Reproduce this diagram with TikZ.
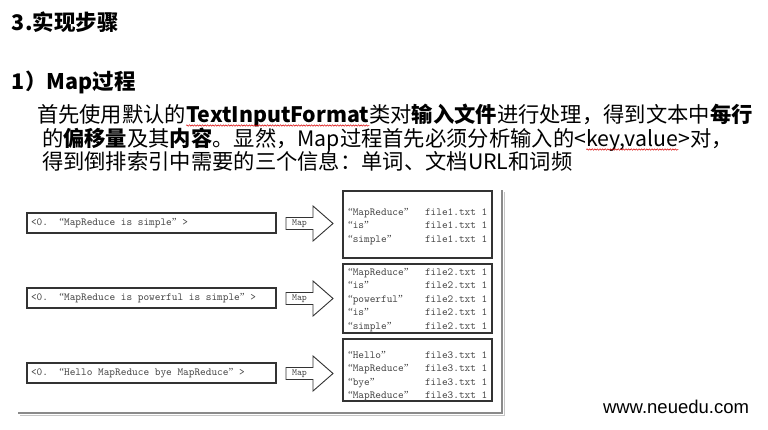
\documentclass[tikz,border=0pt]{standalone}
\usepackage{fontspec}
\setmainfont{Noto Sans CJK SC}
\newfontfamily\webfont{Liberation Sans}
\newfontfamily\qtfont{Liberation Serif}
\newcommand\oq{{\qtfont “}}
\newcommand\cq{{\qtfont ”}}
\usetikzlibrary{decorations.pathmorphing}
\definecolor{boxline}{HTML}{333333}
\definecolor{monotext}{HTML}{444444}
\definecolor{framegray}{HTML}{8A8A8A}
\begin{document}
\begin{tikzpicture}[x=1pt,y=-1pt,
  every node/.style={inner sep=0pt,outer sep=0pt},
  para/.style={anchor=base west,font=\fontsize{21.3}{24}\selectfont},
  head/.style={anchor=base west,font=\fontsize{21.5}{26}\selectfont\bfseries},
  lbox/.style={draw=boxline,line width=1.4pt,anchor=north west,minimum width=249pt,minimum height=20pt},
  rbox/.style={draw=boxline,line width=1.3pt,anchor=north west,minimum width=149pt},
  mono/.style={anchor=base west,font=\ttfamily\fontsize{10.8}{12}\selectfont,text=monotext},
  blockarrow/.style={draw=boxline,line width=0.9pt,fill=white,line join=miter},
  maplabel/.style={font=\ttfamily\fontsize{9.5}{10}\selectfont,text=monotext},
  wave/.style={draw=red!85!black,line width=0.5pt,decorate,decoration={snake,amplitude=0.7pt,segment length=2.6pt}}
]
\useasboundingbox (0,0) rectangle (768,429);

% headings
\node[head] (title) at (12,30) {3.实现步骤};
\node[head] (sub) at (12,89) {1）Map过程};

% paragraph line 1
\node[para] (l1a) at (37,122) {首先使用默认的};
\node[para,anchor=base west] (l1b) at (l1a.base east) {\textbf{TextInputFormat}};
\node[para,anchor=base west] (l1c) at (l1b.base east) {类对\textbf{输入文件}进行处理，得到文本中\textbf{每行}};
\draw[wave] ([yshift=-3.5pt]l1b.base west) -- ([yshift=-3.5pt]l1b.base east);

% paragraph line 2
\node[para] (l2a) at (42,146) {的\textbf{偏移量}及其\textbf{内容}。显然，Map过程首先必须分析输入的<};
\node[para,anchor=base west] (l2b) at (l2a.base east) {key,value};
\node[para,anchor=base west] (l2c) at (l2b.base east) {>对，};
\draw[wave] ([yshift=-3.5pt]l2b.base west) -- ([yshift=-3.5pt]l2b.base east);

% paragraph line 3
\node[para] (l3) at (42,169) {得到倒排索引中需要的三个信息：单词、文档URL和词频};

% outer frame (partial)
\draw[framegray!50,line width=1pt] (20,415.5) -- (504.5,415.5) -- (504.5,192);
\draw[framegray,line width=1.5pt] (18,413) -- (502,413) -- (502,190);

% left input boxes
\node[lbox] (in1) at (27,213) {};
\node[lbox] (in2) at (27,288) {};
\node[lbox] (in3) at (27,363) {};
\node[mono,anchor=west] (t1) at (31,223.5) {<0.\ \ \oq MapReduce is simple\cq\ >};
\node[mono,anchor=west] (t2) at (31,298.5) {<0.\ \ \oq MapReduce is powerful is simple\cq\ >};
\node[mono,anchor=west] (t3) at (31,373.5) {<0.\ \ \oq Hello MapReduce bye MapReduce\cq\ >};

% block arrows
\foreach \c/\n in {223.5/1,298.5/2,373.5/3}{
  \draw[blockarrow] (286,\c-6) -- (313,\c-6) -- (313,\c-17.5) -- (333,\c)
     -- (313,\c+17.5) -- (313,\c+6) -- (286,\c+6) -- cycle;
  \node[maplabel] (map\n) at (299.5,\c) {Map};
}

% right output boxes
\node[rbox,minimum height=67pt] (out1) at (343,191) {};
\node[rbox,minimum height=69pt] (out2) at (343,264) {};
\node[rbox,minimum height=62pt] (out3) at (343,339) {};

\foreach \y/\w/\f [count=\i] in {
  215/MapReduce/file1.txt 1,
  228.5/is/file1.txt 1,
  242/simple/file1.txt 1,
  275/MapReduce/file2.txt 1,
  288.5/is/file2.txt 1,
  302/powerful/file2.txt 1,
  315.5/is/file2.txt 1,
  329/simple/file2.txt 1,
  358/Hello/file3.txt 1,
  371.5/MapReduce/file3.txt 1,
  385/bye/file3.txt 1,
  398.5/MapReduce/file3.txt 1}{
  \node[mono] (w\i) at (348,\y) {\oq\w\cq};
  \node[mono] (f\i) at (425,\y) {\f};
}

% footer
\node[anchor=base west,font=\webfont\fontsize{18.5}{20}\selectfont] (web) at (603,413) {www.neuedu.com};
\end{tikzpicture}
\end{document}
